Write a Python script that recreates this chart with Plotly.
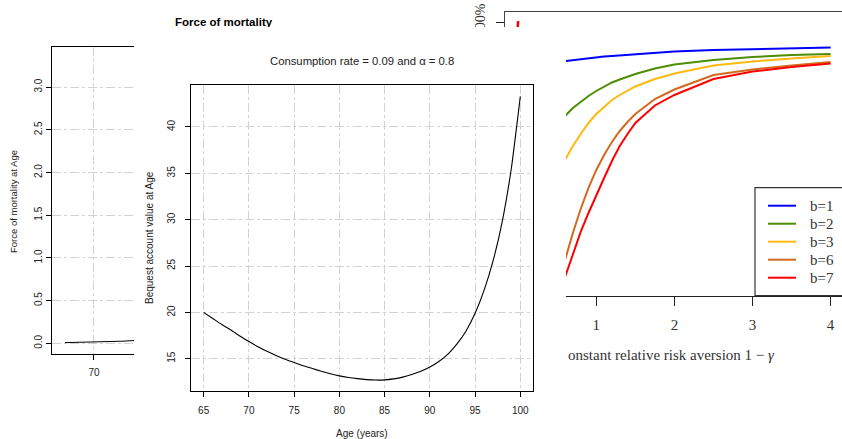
import plotly.graph_objects as go

# ---------------- data ----------------
# Panel A: force of mortality (only the early part is visible)
mort_age = [65, 70, 75, 80]
mort_force = [0.008, 0.014, 0.025, 0.045]
mort_yticks = [0.0, 0.5, 1.0, 1.5, 2.0, 2.5, 3.0]
mort_yticktext = ["0.0", "0.5", "1.0", "1.5", "2.0", "2.5", "3.0"]
mort_xticks = [70, 80, 90, 100]

# Panel B: bequest account value
bequest_age = list(range(65, 101))
bequest_value = [20.0, 19.35, 18.7, 18.1, 17.45, 16.85, 16.3, 15.8, 15.35, 14.95,
                 14.6, 14.25, 13.95, 13.65, 13.38, 13.15, 12.98, 12.85, 12.75, 12.7,
                 12.72, 12.83, 13.02, 13.3, 13.65, 14.1, 14.7, 15.5, 16.6, 18.0,
                 19.9, 22.4, 25.6, 29.8, 35.5, 43.3]
bequest_xticks = [65, 70, 75, 80, 85, 90, 95, 100]
bequest_yticks = [15, 20, 25, 30, 35, 40]

# Panel D: curves vs constant relative risk aversion
crra_x = [0.6, 0.7, 0.8, 0.9, 1.0, 1.1, 1.2, 1.3, 1.4, 1.5, 1.75, 2.0, 2.5, 3.0, 3.5, 4.0]
series_labels = ["b=1", "b=2", "b=3", "b=6", "b=7"]
series_values = [
    [93.9, 94.3, 94.7, 95.1, 95.3, 95.7, 95.9, 96.1, 96.3, 96.5, 97.3, 97.7, 98.3, 98.7, 99.1, 99.3],
    [71.9, 75.1, 77.5, 79.9, 81.9, 83.7, 85.3, 86.5, 87.7, 88.7, 90.9, 92.5, 94.3, 95.5, 96.3, 96.7],
    [54.3, 59.9, 64.7, 69.1, 72.7, 75.7, 78.3, 80.3, 82.1, 83.7, 86.7, 88.9, 92.1, 93.7, 94.9, 95.9],
    [14.3, 25.1, 34.7, 43.1, 50.3, 56.3, 61.5, 65.9, 69.5, 72.7, 78.7, 82.5, 88.3, 90.5, 92.1, 93.5],
    [7.5, 16.7, 25.5, 33.1, 40.3, 47.1, 53.9, 59.9, 64.7, 69.1, 76.1, 80.3, 86.7, 89.7, 91.5, 92.9],
]
series_colors = ["#0000FF", "#4E8C00", "#FFB90F", "#D2691E", "#FF0000"]
crra_xticks = [1, 2, 3, 4]

# Panel C (top strip, mostly hidden)
strip_x = [0.17, 0.175]
strip_y = [97.0, 100.5]
strip_yticks = [100]
strip_yticktext = ["100%"]

# ---------------- layout helpers ----------------
W, H = 842, 439
def fx(px):
    return px / W
def fy(py):
    return 1 - py / H

SANS = "Liberation Sans, Arial, sans-serif"
SERIF = "Liberation Serif, Times New Roman, serif"
GRID = dict(showgrid=True, gridcolor="#D3D3D3", griddash="dashdot", gridwidth=1)

fig = go.Figure()

fig.add_trace(go.Scatter(x=mort_age, y=mort_force, mode="lines",
                         line=dict(color="black", width=1), xaxis="x", yaxis="y"))
fig.add_trace(go.Scatter(x=bequest_age, y=bequest_value, mode="lines",
                         line=dict(color="black", width=1.1, shape="spline", smoothing=0.5),
                         xaxis="x2", yaxis="y2"))
for lab, vals, col in zip(series_labels, series_values, series_colors):
    fig.add_trace(go.Scatter(x=crra_x, y=vals, mode="lines", name=lab,
                             line=dict(color=col, width=2),
                             xaxis="x3", yaxis="y3"))
fig.add_trace(go.Scatter(x=strip_x, y=strip_y, mode="lines",
                         line=dict(color="#FF0000", width=2.5), xaxis="x4", yaxis="y4"))

axcommon = dict(showline=True, linecolor="black", linewidth=1, ticks="outside",
                tickcolor="black", zeroline=False, automargin=False)

fig.update_layout(
    template="none",
    width=W, height=H, autosize=False,
    margin=dict(l=0, r=0, t=0, b=0, pad=0),
    paper_bgcolor="white", plot_bgcolor="white",
    showlegend=False, hovermode=False,
    # Panel A
    xaxis=dict(domain=[fx(52), fx(134)], range=[62.76, 76.9], tickvals=mort_xticks,
               ticklen=5, mirror=True, anchor="y", ticklabelstandoff=4,
               tickfont=dict(family=SANS, size=10, color="#222"), **GRID, **axcommon),
    yaxis=dict(domain=[fy(354), fy(47)], range=[-0.125, 3.47], tickvals=mort_yticks,
               ticktext=mort_yticktext, tickangle=-90, ticklen=5, anchor="x",
               tickfont=dict(family=SANS, size=10, color="#222"), **GRID, **axcommon),
    # Panel B
    xaxis2=dict(domain=[fx(191), fx(533)], range=[63.6, 101.4], tickvals=bequest_xticks,
                ticklen=5, mirror=True, anchor="y2", ticklabelstandoff=5,
                tickfont=dict(family=SANS, size=10, color="#222"), **GRID, **axcommon),
    yaxis2=dict(domain=[fy(391), fy(85)], range=[11.52, 44.53], tickvals=bequest_yticks,
                tickangle=-90, ticklen=5, mirror=True, anchor="x2", ticklabelstandoff=6,
                tickfont=dict(family=SANS, size=10, color="#222"), **GRID, **axcommon),
    # Panel D
    xaxis3=dict(domain=[fx(566), 1], range=[0.612, 4.146], tickvals=crra_xticks,
                showline=True, linecolor="#222", linewidth=1.3, ticks="outside",
                ticklen=9, tickcolor="#222", tickwidth=1.2, showgrid=False, zeroline=False,
                anchor="y3", ticklabelstandoff=6, automargin=False,
                tickfont=dict(family=SERIF, size=15, color="#333")),
    yaxis3=dict(domain=[fy(295.7), fy(27)], range=[0, 107.5], visible=False, anchor="x3",
                automargin=False),
    # Panel C (top strip)
    xaxis4=dict(domain=[fx(505), 1], range=[0, 4.5], side="top", showline=True,
                linecolor="#444", linewidth=1.2, showticklabels=False, ticks="",
                showgrid=False, zeroline=False, anchor="y4", automargin=False),
    yaxis4=dict(domain=[fy(27), fy(12)], range=[97.5, 105], tickvals=strip_yticks,
                ticktext=strip_yticktext, tickangle=-90, ticks="outside", ticklen=8,
                tickcolor="#222", showline=True, linecolor="#444", linewidth=1.2,
                showgrid=False, zeroline=False, anchor="x4", automargin=False,
                ticklabelstandoff=5,
                tickfont=dict(family=SERIF, size=14, color="#333")),
)

shapes = []
annotations = []

# Legend of panel D (box, swatches, labels)
shapes.append(dict(type="rect", xref="paper", yref="paper", x0=fx(755), x1=fx(870),
                   y0=fy(295.7), y1=fy(187.7), line=dict(color="#333", width=1.2),
                   fillcolor="white", layer="above"))
for i, (lab, col) in enumerate(zip(series_labels, series_colors)):
    yy = 205.7 + i * 18
    shapes.append(dict(type="line", xref="paper", yref="paper", x0=fx(768), x1=fx(796),
                       y0=fy(yy), y1=fy(yy), line=dict(color=col, width=2), layer="above"))
    annotations.append(dict(text=lab, xref="paper", yref="paper", x=fx(808), y=fy(yy),
                            xanchor="left", yanchor="middle", showarrow=False,
                            font=dict(family=SERIF, size=15, color="#333")))

# Panel A texts
annotations.append(dict(text="<b>Force of mortality</b>", xref="paper", yref="paper",
                        x=fx(223.5), y=fy(22), xanchor="center", yanchor="middle",
                        showarrow=False, font=dict(family=SANS, size=11.5, color="black")))
annotations.append(dict(text="Force of mortality at Age", xref="paper", yref="paper",
                        x=fx(13), y=fy(202), textangle=-90, xanchor="center",
                        yanchor="middle", showarrow=False,
                        font=dict(family=SANS, size=9.5, color="#222")))
# Panel B texts
annotations.append(dict(text="Consumption rate = 0.09 and α = 0.8", xref="paper",
                        yref="paper", x=fx(362), y=fy(60.5), xanchor="center",
                        yanchor="middle", showarrow=False,
                        font=dict(family=SANS, size=11.3, color="#222")))
annotations.append(dict(text="Bequest account value at Age", xref="paper", yref="paper",
                        x=fx(149), y=fy(238), textangle=-90, xanchor="center",
                        yanchor="middle", showarrow=False,
                        font=dict(family=SANS, size=10, color="#222")))
annotations.append(dict(text="Age (years)", xref="paper", yref="paper", x=fx(362),
                        y=fy(433.5), xanchor="center", yanchor="middle", showarrow=False,
                        font=dict(family=SANS, size=10, color="#222")))
# Panel D axis title (clipped on the left in the reference)
annotations.append(dict(text="onstant relative risk aversion 1 − <i>γ</i>", xref="paper",
                        yref="paper", x=fx(566), y=fy(355), xanchor="left",
                        yanchor="middle", showarrow=False,
                        font=dict(family=SERIF, size=15, color="#333")))
# White cover: panels B/D overlap the top strip from y=27 down
annotations.append(dict(text=" ", xref="paper", yref="paper", x=fx(140), y=fy(27),
                        xanchor="left", yanchor="top", width=400, height=18,
                        bgcolor="white", borderpad=0, borderwidth=0, showarrow=False))

fig.update_layout(shapes=shapes, annotations=annotations)

pin_page = (
    "var d=document.getElementById('{plot_id}');"
    "d.style.position='fixed';d.style.left='0px';d.style.top='0px';"
    "document.body.style.margin='0';document.body.style.padding='0';"
    "document.body.style.overflow='hidden';"
    "document.documentElement.style.overflow='hidden';"
)
fig.write_html("out.html", config={"displayModeBar": False}, post_script=pin_page)
